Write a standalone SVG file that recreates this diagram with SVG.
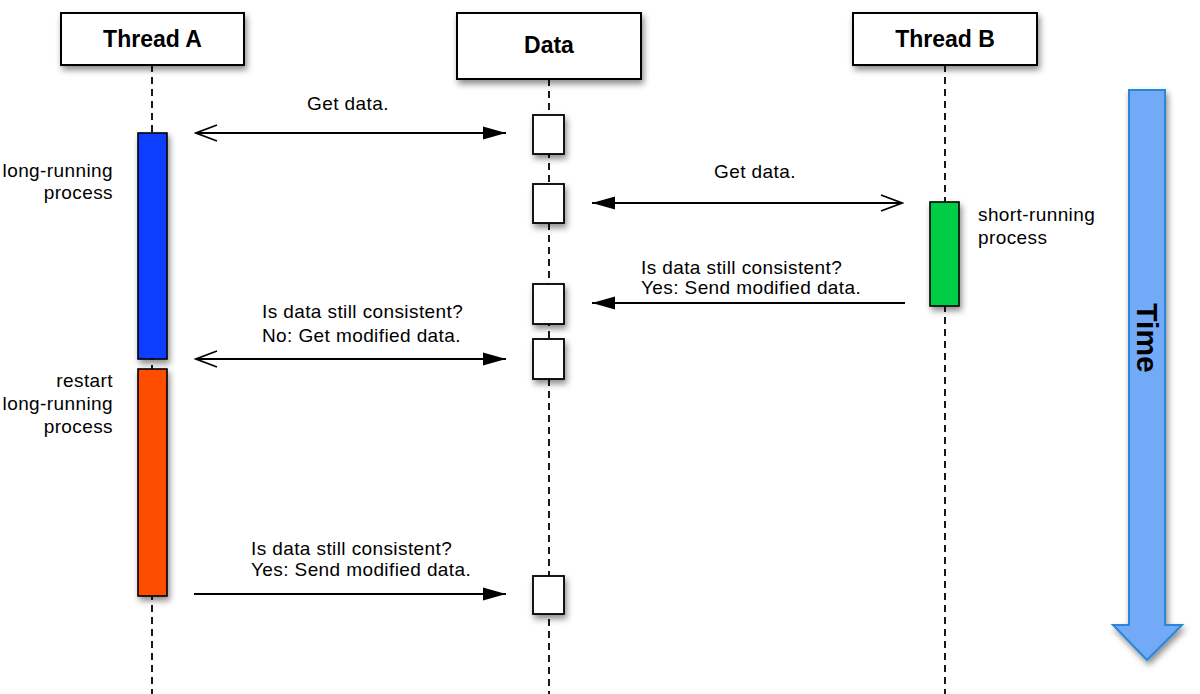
<svg xmlns="http://www.w3.org/2000/svg" width="1200" height="694" viewBox="0 0 1200 694">
  <defs>
    <filter id="sh" x="-30%" y="-30%" width="160%" height="160%">
      <feDropShadow dx="2" dy="4" stdDeviation="3" flood-color="#000" flood-opacity="0.45"/>
    </filter>
    <marker id="filled" viewBox="0 0 24 14" refX="23" refY="7" markerWidth="24" markerHeight="14" markerUnits="userSpaceOnUse" orient="auto-start-reverse">
      <path d="M0,0.5 L23,7 L0,13.5 Z" fill="#000"/>
    </marker>
    <marker id="open" viewBox="0 0 24 18" refX="22" refY="9" markerWidth="24" markerHeight="18" markerUnits="userSpaceOnUse" orient="auto-start-reverse">
      <path d="M1,1 L22,9 L1,17" fill="none" stroke="#000" stroke-width="1.7"/>
    </marker>
  </defs>
  <style>
    .hdr { fill:#fff; stroke:#000; stroke-width:2; }
    .htxt { font-family:"Liberation Sans", Arial, sans-serif; font-weight:bold; font-size:23px; fill:#000; text-anchor:middle; }
    .life { stroke:#000; stroke-width:1.8; stroke-dasharray:7 5; fill:none; }
    .act { fill:#fff; stroke:#000; stroke-width:1.8; }
    .bar { stroke:#000; stroke-width:1.6; }
    .msg { stroke:#000; stroke-width:1.8; fill:none; }
    .lbl { font-family:"Liberation Sans", Arial, sans-serif; font-size:19px; letter-spacing:0.4px; fill:#000; }
  </style>
  <rect width="1200" height="694" fill="#fff"/>

  <g id="lifelines">
    <line class="life" x1="152" y1="65" x2="152" y2="694"/>
    <line class="life" x1="549" y1="79" x2="549" y2="694"/>
    <line class="life" x1="945" y1="65" x2="945" y2="694"/>
  </g>

  <g id="thread-a">
    <rect class="hdr" x="61" y="13" width="183" height="52" filter="url(#sh)"/>
    <text class="htxt" x="152.5" y="47">Thread A</text>
  </g>
  <g id="data">
    <rect class="hdr" x="457" y="13" width="184" height="66" filter="url(#sh)"/>
    <text class="htxt" x="549" y="53">Data</text>
  </g>
  <g id="thread-b">
    <rect class="hdr" x="853" y="13" width="184" height="52" filter="url(#sh)"/>
    <text class="htxt" x="945" y="47">Thread B</text>
  </g>

  <g id="long-running">
    <rect class="bar" x="138" y="133" width="29" height="226" fill="#0a3cff" filter="url(#sh)"/>
    <text class="lbl" x="113" y="177" text-anchor="end">long-running</text>
    <text class="lbl" x="113" y="199" text-anchor="end">process</text>
  </g>
  <g id="restart">
    <rect class="bar" x="138" y="369" width="29" height="227" fill="#ff4e00" filter="url(#sh)"/>
    <text class="lbl" x="113" y="387" text-anchor="end">restart</text>
    <text class="lbl" x="113" y="410" text-anchor="end">long-running</text>
    <text class="lbl" x="113" y="433" text-anchor="end">process</text>
  </g>
  <g id="short-running">
    <rect class="bar" x="930" y="202" width="29" height="104" fill="#00cc44" filter="url(#sh)"/>
    <text class="lbl" x="978" y="221">short-running</text>
    <text class="lbl" x="978" y="244">process</text>
  </g>

  <g id="data-activations">
    <rect class="act" x="533" y="115" width="31" height="39" filter="url(#sh)"/>
    <rect class="act" x="533" y="184" width="31" height="39" filter="url(#sh)"/>
    <rect class="act" x="533" y="284" width="31" height="40" filter="url(#sh)"/>
    <rect class="act" x="533" y="339" width="31" height="40" filter="url(#sh)"/>
    <rect class="act" x="533" y="576" width="31" height="38" filter="url(#sh)"/>
  </g>

  <g id="connectors">
    <line class="msg" x1="196" y1="133" x2="506" y2="133" marker-start="url(#open)" marker-end="url(#filled)"/>
    <line class="msg" x1="592" y1="203" x2="902" y2="203" marker-start="url(#filled)" marker-end="url(#open)"/>
    <line class="msg" x1="905" y1="303" x2="592" y2="303" marker-end="url(#filled)"/>
    <line class="msg" x1="196" y1="359" x2="506" y2="359" marker-start="url(#open)" marker-end="url(#filled)"/>
    <line class="msg" x1="194" y1="594" x2="506" y2="594" marker-end="url(#filled)"/>
  </g>

  <g id="labels">
    <text class="lbl" x="348" y="110" text-anchor="middle">Get data.</text>
    <text class="lbl" x="755" y="178" text-anchor="middle">Get data.</text>
    <text class="lbl" x="641" y="274">Is data still consistent?</text>
    <text class="lbl" x="641" y="294">Yes: Send modified data.</text>
    <text class="lbl" x="262" y="318">Is data still consistent?</text>
    <text class="lbl" x="262" y="342">No: Get modified data.</text>
    <text class="lbl" x="251" y="555">Is data still consistent?</text>
    <text class="lbl" x="251" y="576">Yes: Send modified data.</text>
  </g>

  <g id="time">
    <path d="M1129,90 L1165,90 L1165,625 L1182,625 L1147,660 L1113,625 L1129,625 Z" fill="#72aaf7" stroke="#2a86d6" stroke-width="2" filter="url(#sh)"/>
    <text transform="translate(1137,338) rotate(90)" x="0" y="0" text-anchor="middle" font-family="Liberation Sans, Arial, sans-serif" font-weight="bold" font-size="30" fill="#000">Time</text>
  </g>
</svg>
